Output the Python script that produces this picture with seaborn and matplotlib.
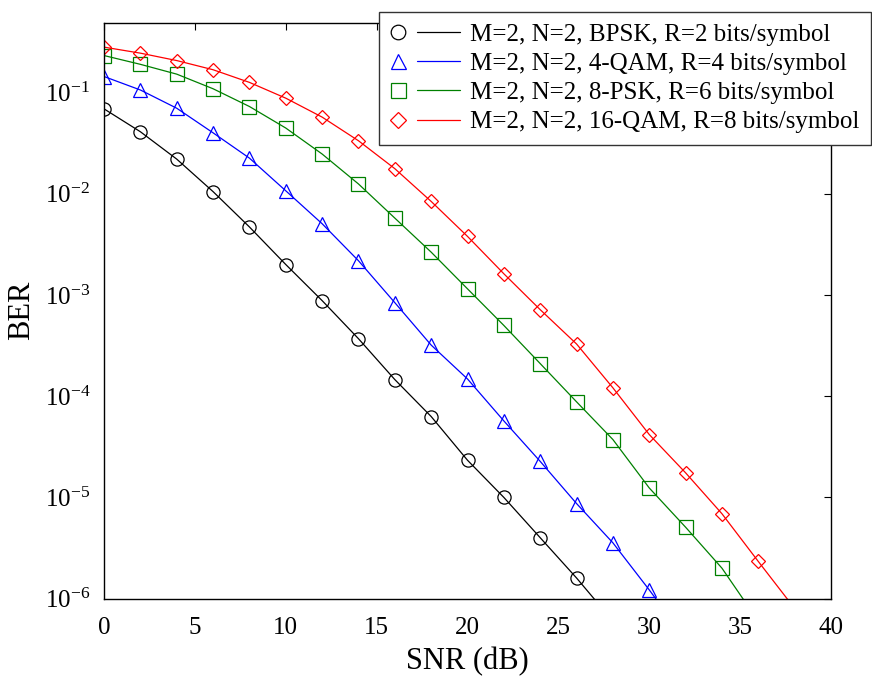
import matplotlib
matplotlib.use("Agg")
import matplotlib.pyplot as plt
import seaborn as sns
import pandas as pd
from matplotlib.lines import Line2D
from matplotlib.legend_handler import HandlerBase
from matplotlib.ticker import LogLocator, NullLocator

# SNR grid (dB) and simulated bit error rates for each configuration
snr_bpsk = [0, 2, 4, 6, 8, 10, 12, 14, 16, 18, 20, 22, 24, 26, 28]
ber_bpsk = [0.069, 0.041, 0.022, 0.0105, 0.0047, 0.0020, 8.8e-4, 3.7e-4,
            1.46e-4, 6.3e-5, 2.33e-5, 1.0e-5, 4.0e-6, 1.6e-6, 6.0e-7]

snr_qam4 = [0, 2, 4, 6, 8, 10, 12, 14, 16, 18, 20, 22, 24, 26, 28, 30, 32]
ber_qam4 = [0.144, 0.106, 0.070, 0.040, 0.0225, 0.0107, 0.00506, 0.00218,
            8.4e-4, 3.2e-4, 1.48e-4, 5.7e-5, 2.27e-5, 8.7e-6, 3.56e-6,
            1.22e-6, 4.0e-7]

snr_psk8 = [0, 2, 4, 6, 8, 10, 12, 14, 16, 18, 20, 22, 24, 26, 28, 30, 32,
            34, 36]
ber_psk8 = [0.232, 0.19, 0.152, 0.109, 0.0728, 0.0446, 0.0247, 0.0125,
            0.00575, 0.00265, 0.00115, 5.0e-4, 2.1e-4, 8.8e-5, 3.73e-5,
            1.24e-5, 5.08e-6, 2.0e-6, 6.0e-7]

snr_qam16 = [0, 2, 4, 6, 8, 10, 12, 14, 16, 18, 20, 22, 24, 26, 28, 30, 32,
             34, 36, 38]
ber_qam16 = [0.281, 0.245, 0.207, 0.168, 0.126, 0.088, 0.0572, 0.0334,
             0.0177, 0.0084, 0.00379, 0.00162, 7.16e-4, 3.28e-4, 1.21e-4,
             4.18e-5, 1.75e-5, 6.9e-6, 2.33e-6, 8.0e-7]

labels = [
    "M=2, N=2, BPSK, R=2 bits/symbol",
    "M=2, N=2, 4-QAM, R=4 bits/symbol",
    "M=2, N=2, 8-PSK, R=6 bits/symbol",
    "M=2, N=2, 16-QAM, R=8 bits/symbol",
]
x_ticks = [0, 5, 10, 15, 20, 25, 30, 35, 40]

series = [
    (snr_bpsk, ber_bpsk, "black", "o", 9.5, 10.5),
    (snr_qam4, ber_qam4, "#0000ff", "^", 10.3, 10.8),
    (snr_psk8, ber_psk8, "#008000", "s", 10.3, 10.8),
    (snr_qam16, ber_qam16, "#ff0000", "D", 7.2, 8.0),
]

sns.set_theme(style="white")
plt.rcParams["font.family"] = ["Liberation Serif", "DejaVu Serif"]
plt.rcParams["mathtext.fontset"] = "stix"
plt.rcParams["axes.unicode_minus"] = True
plt.rcParams["text.color"] = "black"
plt.rcParams["axes.labelcolor"] = "black"
plt.rcParams["xtick.color"] = "black"
plt.rcParams["ytick.color"] = "black"

fig = plt.figure(figsize=(8.72, 6.77), dpi=100)
ax = fig.add_axes([0.1193, 0.1157, 0.8337, 0.8508])

legend_handles = []
for snr, ber, color, marker, ms, ms_leg in series:
    df = pd.DataFrame({"snr": snr, "ber": ber})
    sns.lineplot(data=df, x="snr", y="ber", ax=ax, color=color, lw=0.9,
                 marker=marker, markersize=ms, markerfacecolor="none",
                 markeredgecolor=color, markeredgewidth=0.9,
                 legend=False, errorbar=None)
    legend_handles.append(Line2D([], [], color=color, lw=0.9, marker=marker,
                                 markersize=ms_leg, markeredgewidth=0.9))

ax.set_yscale("log")
ax.set_xlim(0, 40)
ax.set_ylim(1e-6, 0.49)
ax.set_xticks(x_ticks)
ax.yaxis.set_major_locator(LogLocator(base=10, numticks=10))
ax.yaxis.set_minor_locator(NullLocator())

for s in ax.spines.values():
    s.set_visible(True)
    s.set_color("black")
    s.set_linewidth(1.0)

ax.tick_params(axis="both", which="major", direction="in", length=5,
               width=0.8, top=True, right=True, labelsize=18,
               colors="black")
ax.tick_params(axis="x", pad=13)
ax.tick_params(axis="y", pad=10)

ax.set_xlabel("SNR (dB)", fontsize=22, labelpad=6)
ax.set_ylabel("BER", fontsize=22, labelpad=6)
ax.grid(False)


class MarkerThenLine(HandlerBase):
    """Legend entry: the marker on its own, followed by a short line."""

    def create_artists(self, legend, orig_handle, xdescent, ydescent,
                       width, height, fontsize, trans):
        y = height / 2 - ydescent
        x0 = -xdescent
        c = orig_handle.get_color()
        mk = Line2D([x0 + 0.11 * width], [y], linestyle="none",
                    marker=orig_handle.get_marker(),
                    markersize=orig_handle.get_markersize(),
                    markerfacecolor="none", markeredgecolor=c,
                    markeredgewidth=orig_handle.get_markeredgewidth())
        ln = Line2D([x0 + 0.375 * width, x0 + width], [y, y], color=c,
                    lw=orig_handle.get_linewidth())
        mk.set_transform(trans)
        ln.set_transform(trans)
        return [mk, ln]


leg = fig.legend(legend_handles, labels, loc="upper right",
                 bbox_to_anchor=(0.9989, 0.9823),
                 bbox_transform=fig.transFigure, borderaxespad=0,
                 fontsize=18, handlelength=2.8, handletextpad=0.4,
                 labelspacing=0.27, borderpad=0.45, fancybox=False,
                 framealpha=1, edgecolor="#333333",
                 handler_map={Line2D: MarkerThenLine()})
leg.get_frame().set_linewidth(1.0)

fig.savefig("out.png", dpi=100)
